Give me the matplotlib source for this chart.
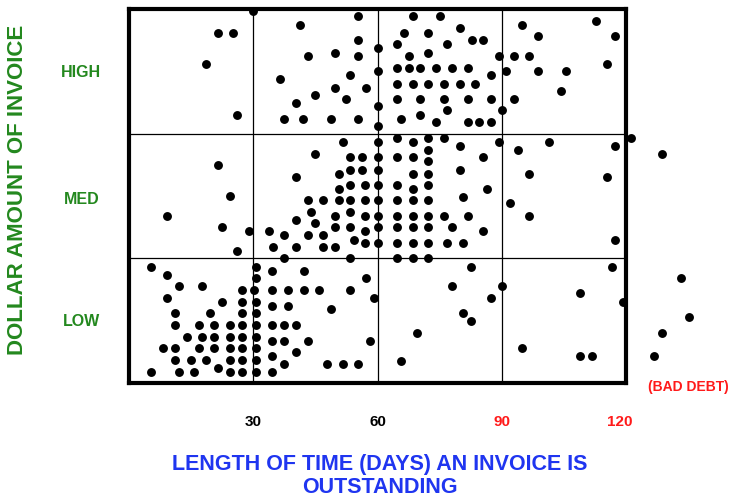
import matplotlib
matplotlib.use("Agg")
import matplotlib.pyplot as plt

plt.rcParams['font.family'] = ['Liberation Sans', 'DejaVu Sans']

# Amount scale: LOW 0-10, MED 10-20, HIGH 20-30 ; days 0-120 (+bad debt beyond)
high_days = [30.0, 21.4, 25.2, 18.6, 26.1, 41.2, 55.3, 55.3, 60.0, 43.1, 49.7, 55.3, 60.0,
             36.5, 53.4, 49.7, 57.3, 45.0, 52.5, 40.3, 60.0, 37.5, 42.1, 48.8, 55.3, 60.0,
             68.6, 75.2, 66.5, 72.2, 79.9, 64.7, 76.9, 82.7, 85.4, 67.5, 72.2, 89.3,
             64.7, 67.5, 70.3, 74.2, 78.0, 81.8, 87.3,
             64.7, 68.6, 72.2, 76.1, 79.9, 83.6,
             64.7, 70.3, 76.1, 81.8, 87.3,
             76.9, 90.1, 65.7, 70.3, 74.2, 81.8, 84.6, 87.3,
             94.9, 112.7, 98.7, 117.4, 93.0, 96.7, 91.1, 98.7, 105.6, 115.5, 104.2, 93.0]
high_amt = [29.8, 28.1, 28.1, 25.6, 21.5, 28.7, 29.4, 27.5, 26.9, 26.2, 26.5, 26.2, 25.0,
            24.4, 24.7, 23.7, 23.7, 23.1, 22.8, 22.5, 22.2, 21.2, 21.2, 21.2, 21.2, 20.6,
            29.4, 29.4, 28.1, 28.1, 28.5, 27.2, 27.2, 27.5, 27.5, 26.2, 26.5, 26.2,
            25.3, 25.3, 25.3, 25.3, 25.3, 25.3, 24.7,
            24.0, 24.0, 24.0, 24.0, 24.0, 24.0,
            22.8, 22.8, 22.8, 22.8, 22.8,
            21.9, 21.9, 21.2, 21.5, 20.9, 20.9, 20.9, 20.9,
            28.7, 29.0, 27.8, 27.8, 26.2, 26.2, 25.0, 25.0, 25.0, 25.6, 23.4, 22.8]

med_days = [21.4, 24.3, 9.2, 22.4, 29.0, 26.1,
            51.6, 45.0, 53.4, 56.3, 53.4, 56.3, 50.6, 40.3, 53.4, 57.1, 50.6,
            43.1, 46.8, 50.6, 53.4, 57.1,
            44.0, 53.4, 57.1, 49.7, 40.3, 45.0, 53.4, 49.7, 57.1,
            33.7, 37.5, 43.1, 46.8, 54.4, 57.1,
            34.7, 40.3, 46.8, 49.7, 37.5, 53.4,
            60.0, 60.0, 60.0, 60.0, 60.0, 60.0, 60.0, 60.0,
            64.7, 68.6, 72.2, 76.1, 72.2, 79.9, 89.3,
            64.7, 68.6, 72.2, 85.4,
            68.6, 72.2, 79.9,
            64.7, 68.6, 72.2, 86.5, 80.7,
            64.7, 68.6, 72.2,
            64.7, 68.6, 72.2, 76.1, 81.8,
            64.7, 68.6, 72.2, 78.0, 85.4,
            64.7, 68.6, 72.2, 76.9, 80.7,
            64.7, 68.6, 72.2,
            93.9, 101.4, 117.4, 121.1, 128.7, 96.7, 115.5, 92.1, 96.7, 117.4]
med_amt = [17.5, 15.0, 13.4, 12.5, 12.2, 10.6,
           19.3, 18.4, 18.1, 18.1, 17.1, 17.1, 16.8, 16.5, 15.9, 15.9, 15.6,
           14.65, 14.65, 14.65, 14.65, 14.65,
           13.7, 13.7, 13.4, 13.4, 13.1, 12.8, 12.5, 12.5, 12.2,
           12.2, 11.85, 11.85, 11.85, 11.5, 11.2,
           10.9, 10.9, 10.9, 10.9, 10.0, 10.0,
           19.3, 18.1, 17.1, 15.9, 14.65, 13.4, 12.5, 11.2,
           19.65, 19.3, 19.65, 19.65, 18.7, 19.0, 19.3,
           18.1, 18.1, 17.8, 18.1,
           16.8, 16.8, 17.1,
           15.9, 15.6, 15.9, 15.6, 14.9,
           14.65, 14.65, 14.65,
           13.4, 13.4, 13.4, 13.4, 13.4,
           12.5, 12.5, 12.5, 12.5, 12.2,
           11.2, 11.2, 11.2, 11.2, 11.2,
           10.0, 10.0, 10.0,
           18.7, 19.3, 19.0, 19.65, 18.4, 16.8, 16.5, 14.4, 13.4, 11.5]

low_days = [5.4, 9.2, 12.1, 17.7, 27.2, 9.2, 22.4, 27.2, 11.2, 19.6, 27.2,
            11.2, 16.8, 20.6, 24.4, 27.2,
            14.0, 17.7, 20.6, 24.4, 27.2,
            8.3, 11.2, 16.8, 20.6, 24.4, 27.2,
            11.2, 15.0, 18.6, 24.4, 27.2,
            5.4, 12.1, 15.8, 24.4, 27.2, 21.5,
            30.7, 30.7, 30.1, 30.7, 30.7, 30.7, 30.7, 30.7, 30.7, 30.7,
            34.6, 42.2, 57.3,
            34.6, 38.4, 42.2, 45.9, 53.4, 59.1,
            34.6, 38.4, 48.7,
            34.6, 37.4, 40.3,
            34.6, 37.4, 43.1, 58.1,
            40.3, 34.6,
            37.4, 47.8, 51.6, 55.3,
            34.6,
            82.6, 77.9, 90.1, 87.3, 80.7, 82.6, 69.5, 65.7,
            116.5, 108.9, 119.3, 133.4, 135.3, 128.7, 126.8, 94.8, 108.9, 111.8]
low_amt = [9.3, 8.7, 7.8, 7.8, 7.5, 6.8, 6.5, 6.5, 5.6, 5.6, 5.6,
           4.65, 4.65, 4.65, 4.65, 4.65,
           3.7, 3.7, 3.7, 3.7, 3.7,
           2.8, 2.8, 2.8, 2.8, 2.8, 2.8,
           1.85, 1.85, 1.85, 1.85, 1.85,
           0.9, 0.9, 0.9, 0.9, 0.9, 1.2,
           9.3, 8.4, 7.5, 6.5, 5.6, 4.65, 3.7, 2.8, 1.85, 0.9,
           9.0, 9.0, 8.4,
           7.5, 7.5, 7.5, 7.5, 7.5, 6.8,
           6.2, 6.2, 5.9,
           4.65, 4.65, 4.65,
           3.4, 3.4, 3.4, 3.4,
           2.5, 2.2,
           1.5, 1.5, 1.5, 1.5,
           0.9,
           9.3, 7.8, 7.8, 6.8, 5.6, 5.0, 4.0, 1.8,
           9.3, 7.2, 6.5, 8.4, 5.3, 4.0, 2.2, 2.8, 2.2, 2.2]

band_labels = ["LOW", "MED", "HIGH"]
band_centers = [4.9, 14.7, 24.9]
tick_days = [30, 60, 90, 120]
tick_labels = ["30", "60", "90", "120"]
tick_colors = ["black", "black", "#FF1A1A", "#FF1A1A"]

GREEN = "#23881E"
BLUE = "#1F35F0"
RED = "#FF1A1A"

W, H = 747, 499
fig = plt.figure(figsize=(W / 100, H / 100), dpi=100)
ax = fig.add_axes([129 / W, 1 - 383 / H, (626 - 129) / W, (383 - 9) / H])
ax.set_xlim(0, 120)
ax.set_ylim(0, 30)

for d, a in [(high_days, high_amt), (med_days, med_amt), (low_days, low_amt)]:
    ax.plot(d, a, linestyle="none", marker="o", markersize=6.4, color="black",
            markeredgewidth=0, clip_on=False, zorder=5)

for x in [30, 60, 90]:
    ax.axvline(x, color="black", linewidth=0.9, zorder=1)
for y in [10, 20]:
    ax.axhline(y, color="black", linewidth=0.9, zorder=1)

for s in ax.spines.values():
    s.set_linewidth(3)
ax.set_xticks([])
ax.set_yticks([])

for d, lab, c in zip(tick_days, tick_labels, tick_colors):
    ax.text(d - 1.5 if d == 120 else d, -3.1, lab, ha="center", va="center",
            fontsize=11, fontweight="bold", color=c)

for lab, yc in zip(band_labels, band_centers):
    ax.text(-11.5, yc, lab, ha="center", va="center", fontsize=11.5,
            fontweight="bold", color=GREEN)

ax.text(135, -0.3, "(BAD DEBT)", ha="center", va="center", fontsize=10,
        fontweight="bold", color=RED, clip_on=False)

fig.text(18 / W, 1 - 190 / H, "DOLLAR AMOUNT OF INVOICE", rotation=90,
         ha="center", va="center", fontsize=16, fontweight="bold", color=GREEN)
fig.text(380 / W, 1 - 476 / H, "LENGTH OF TIME (DAYS) AN INVOICE IS\nOUTSTANDING",
         ha="center", va="center", fontsize=15.5, fontweight="bold", color=BLUE,
         linespacing=1.1)

fig.savefig("out.png", dpi=100)
